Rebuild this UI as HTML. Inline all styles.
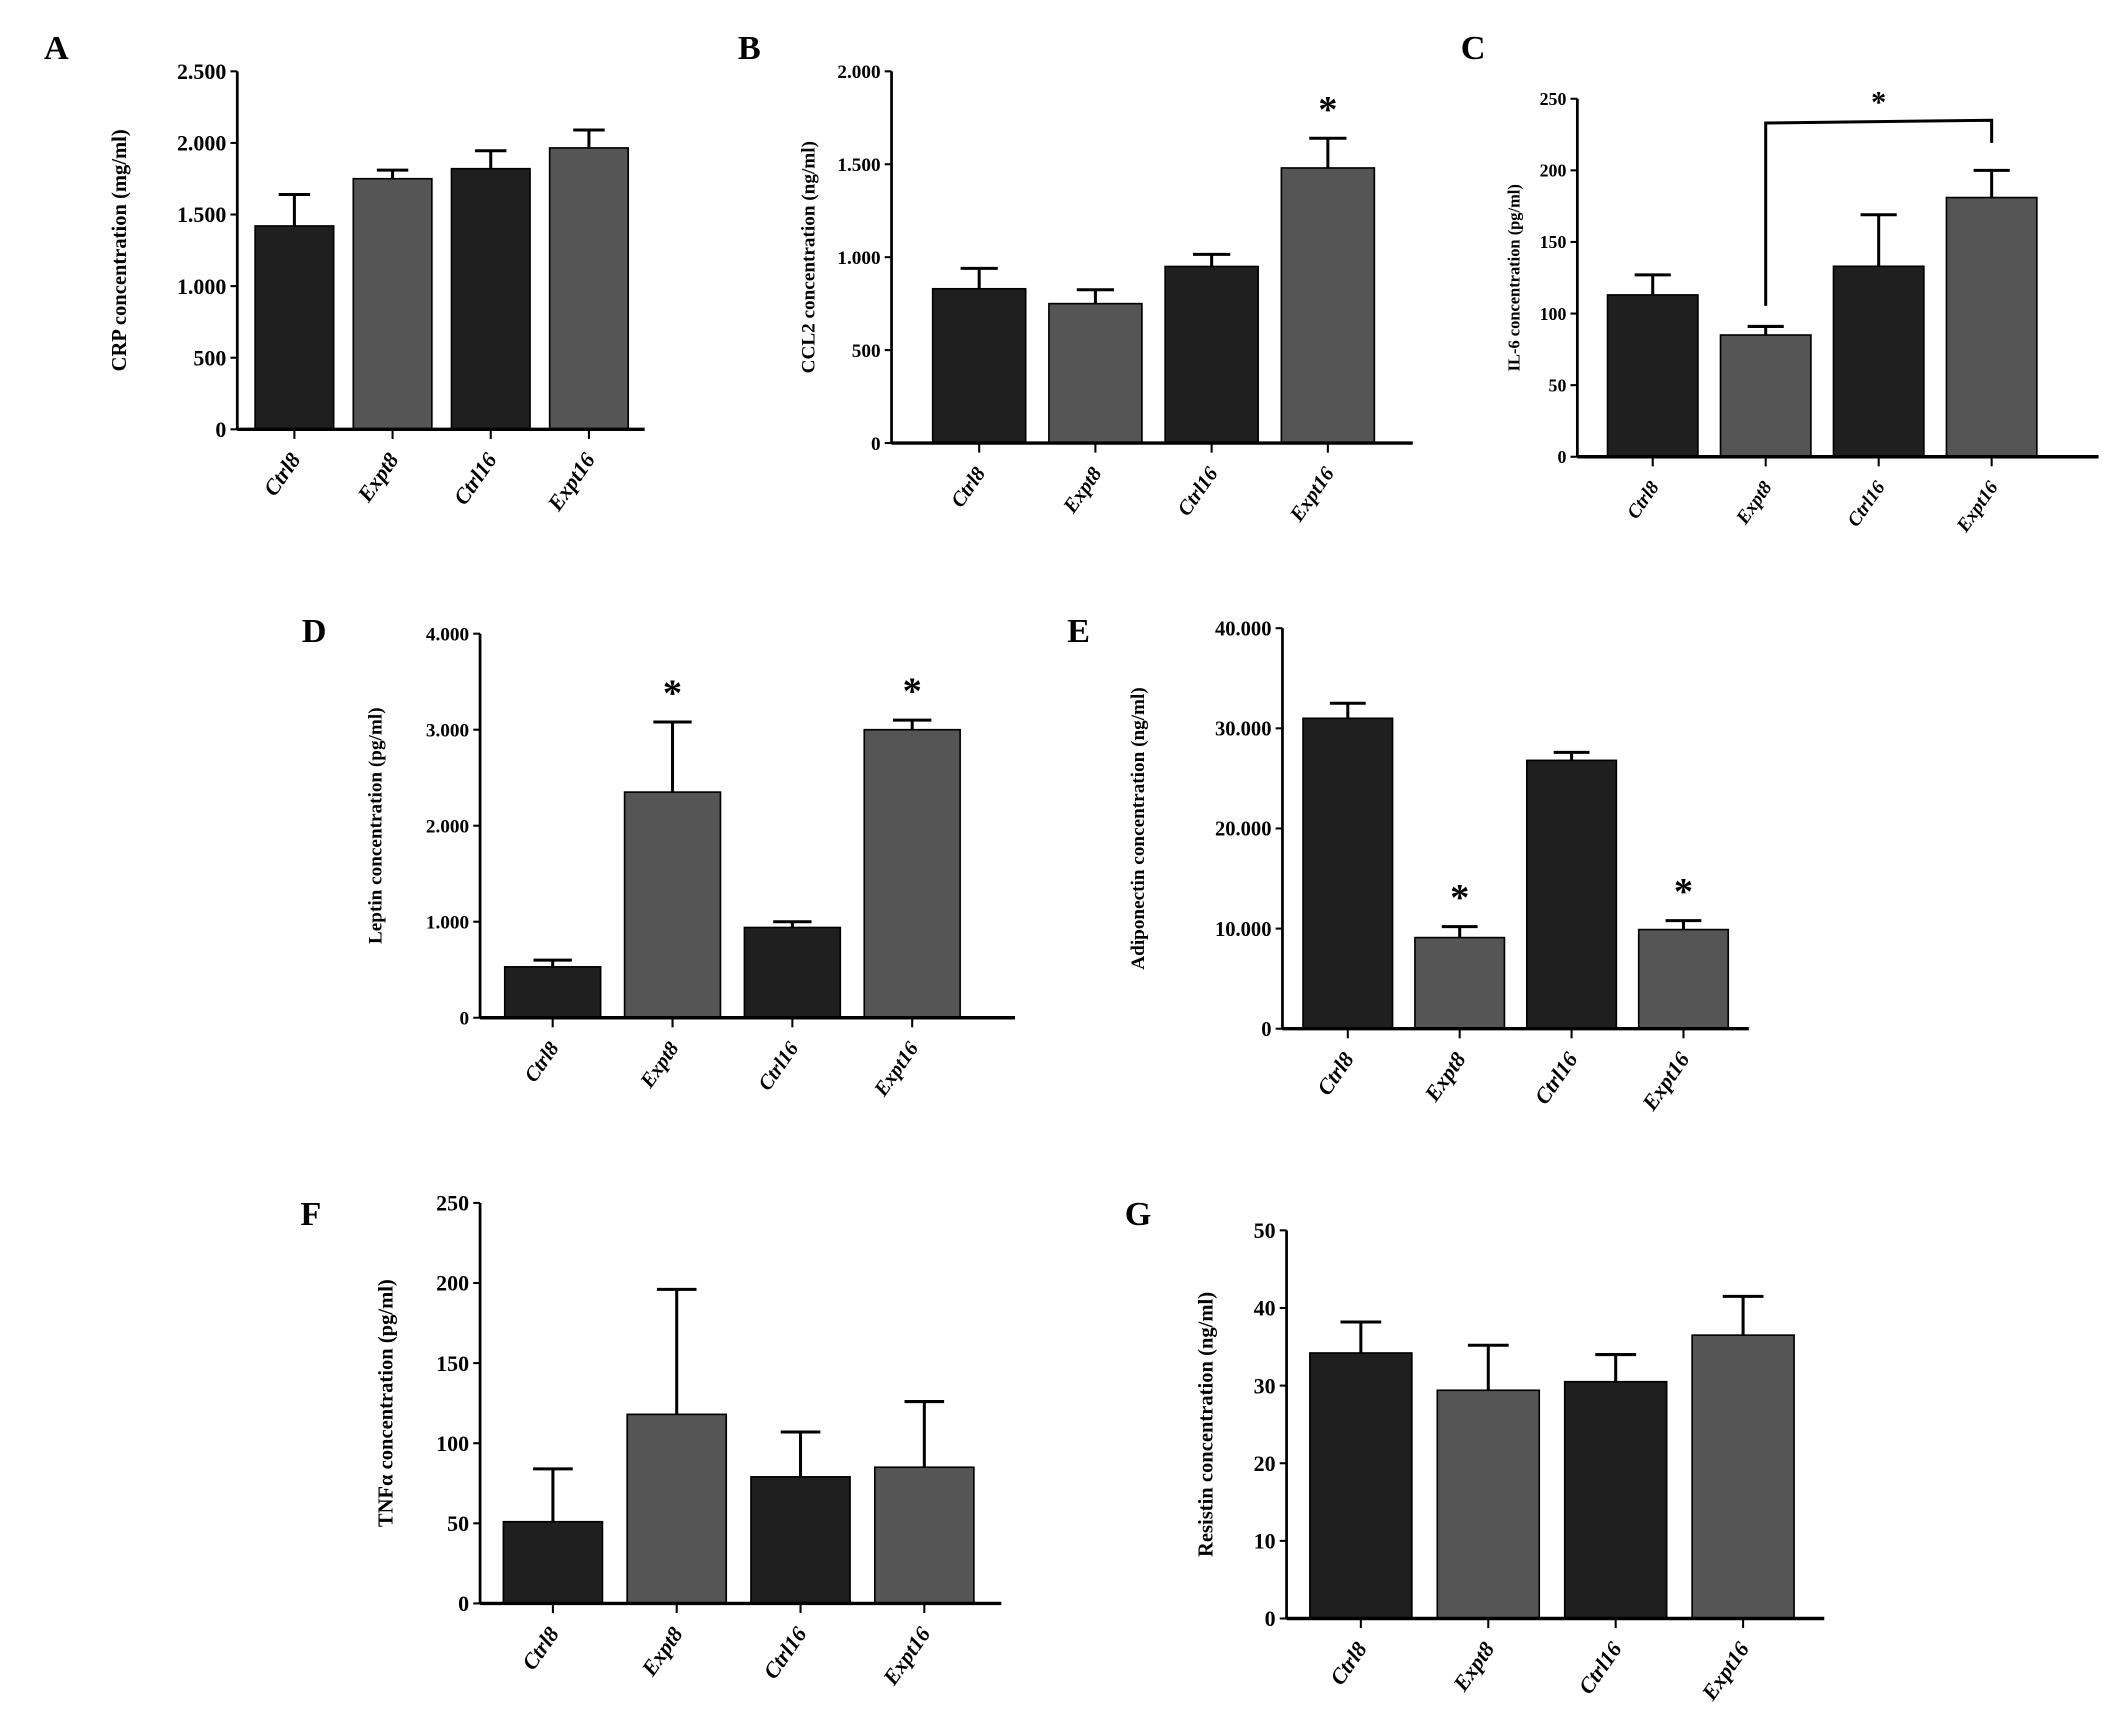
<!DOCTYPE html>
<html><head><meta charset="utf-8"><style>
html,body{margin:0;padding:0;background:#fff;}
svg{display:block;}
text{font-family:"Liberation Serif",serif;font-weight:bold;fill:#000;}
</style></head><body>
<svg id="fig" width="2126" height="1710" viewBox="0 0 1550 1246.7" xmlns="http://www.w3.org/2000/svg"></svg>
<script>
const categories = ["Ctrl8","Expt8","Ctrl16","Expt16"];
const crpValues = [1420,1750,1820,1965];
const crpErr = [1640,1810,1945,2090];
const crpTicks = ["0","500","1.000","1.500","2.000","2.500"];
const ccl2Values = [830,750,950,1480];
const ccl2Err = [940,825,1015,1640];
const ccl2Ticks = ["0","500","1.000","1.500","2.000"];
const il6Values = [113,85,133,181];
const il6Err = [127,91,169,200];
const il6Ticks = ["0","50","100","150","200","250"];
const leptinValues = [530,2350,940,3000];
const leptinErr = [600,3080,1000,3100];
const leptinTicks = ["0","1.000","2.000","3.000","4.000"];
const adipoValues = [31000,9100,26800,9900];
const adipoErr = [32500,10200,27600,10800];
const adipoTicks = ["0","10.000","20.000","30.000","40.000"];
const tnfValues = [51,118,79,85];
const tnfErr = [84,196,107,126];
const tnfTicks = ["0","50","100","150","200","250"];
const resistinValues = [34.2,29.4,30.5,36.5];
const resistinErr = [38.2,35.2,34.0,41.5];
const resistinTicks = ["0","10","20","30","40","50"];

const NS="http://www.w3.org/2000/svg";
const svg=document.getElementById('fig');
function mk(tag,attrs,parent){const e=document.createElementNS(NS,tag);for(const k in attrs)e.setAttribute(k,attrs[k]);(parent||svg).appendChild(e);return e;}

const panels=[
 {id:'a',letter:'A',lx:32,ly:43,ax:173,top:52,zero:313,right:470,b0:186,b1:458,max:2500,step:500,ticks:crpTicks,vals:crpValues,err:crpErr,title:'CRP concentration (mg/ml)',tx:92,ts:15,fs:16,cs:16,stars:[]},
 {id:'b',letter:'B',lx:538,ly:43,ax:650,top:52,zero:323,right:1030,b0:680,b1:1002,max:2000,step:500,ticks:ccl2Ticks,vals:ccl2Values,err:ccl2Err,title:'CCL2 concentration (ng/ml)',tx:594,ts:14,fs:14,cs:15,stars:[3]},
 {id:'c',letter:'C',lx:1065,ly:43,ax:1150,top:72,zero:333,right:1530,b0:1172,b1:1485,max:250,step:50,ticks:il6Ticks,vals:il6Values,err:il6Err,title:'IL-6 concentration (pg/ml)',tx:1108,ts:12,fs:13,cs:14,stars:[],bracket:true},
 {id:'d',letter:'D',lx:220,ly:468,ax:350,top:462,zero:742,right:740,b0:368,b1:700,max:4000,step:1000,ticks:leptinTicks,vals:leptinValues,err:leptinErr,title:'Leptin concentration (pg/ml)',tx:278,ts:14,fs:14,cs:15,stars:[1,3]},
 {id:'e',letter:'E',lx:778,ly:468,ax:935,top:458,zero:750,right:1275,b0:950,b1:1260,max:40000,step:10000,ticks:adipoTicks,vals:adipoValues,err:adipoErr,title:'Adiponectin concentration (ng/ml)',tx:834,ts:14,fs:15,cs:16,stars:[1,3]},
 {id:'f',letter:'F',lx:219,ly:893,ax:350,top:877,zero:1169,right:730,b0:367,b1:710,max:250,step:50,ticks:tnfTicks,vals:tnfValues,err:tnfErr,title:'TNFα concentration (pg/ml)',tx:286,ts:15,fs:16,cs:16,stars:[]},
 {id:'g',letter:'G',lx:820,ly:893,ax:938,top:897,zero:1180,right:1330,b0:955,b1:1308,max:50,step:10,ticks:resistinTicks,vals:resistinValues,err:resistinErr,title:'Resistin concentration (ng/ml)',tx:884,ts:15,fs:16,cs:16,stars:[]}
];
const colors=['#1f1f1f','#555','#1f1f1f','#555'];

panels.forEach(p=>{
  const g=mk('g',{});
  
  
  const y=v=>p.zero-(v/p.max)*(p.zero-p.top);
  const n=categories.length;
  const slot=(p.b1-p.b0)/(n-0.2);
  const bw=slot*0.8;
  const cx=i=>p.b0+bw/2+i*slot;
  const L=mk('text',{x:p.lx,y:p.ly,'font-size':25},g);L.textContent=p.letter;
  
  
  p.vals.forEach((v,i)=>{
    const x=cx(i);
    const eb=mk('path',{d:`M${x} ${y(v)}V${y(p.err[i])}M${x-bw*0.2} ${y(p.err[i])}H${x+bw*0.2}`,stroke:'#000','stroke-width':2.2,fill:'none'},g);
    
    
    const r=mk('rect',{x:x-bw/2,y:y(v),width:bw,height:p.zero-y(v),fill:colors[i],stroke:'#000','stroke-width':1.2},g);
    
    
    const tk=mk('line',{x1:x,x2:x,y1:p.zero,y2:p.zero+7,stroke:'#000','stroke-width':1.5},g);
    
    
    const ct=mk('text',{x:x+5,y:p.zero+22,'font-size':p.cs,'font-style':'italic','text-anchor':'end',transform:`rotate(-55 ${x+5} ${p.zero+22})`},g);
    ct.textContent=categories[i];
    
    
    if(p.stars.includes(i)){
      const s=mk('text',{x:x,y:y(p.err[i])-12,'font-size':28,'font-weight':'normal','text-anchor':'middle'},g);
      s.textContent='*';
      
      
    }
  });
  const ya=mk('line',{x1:p.ax,x2:p.ax,y1:p.top,y2:p.zero,stroke:'#000','stroke-width':2},g);
  
  
  const xa=mk('line',{x1:p.ax,x2:p.right,y1:p.zero,y2:p.zero,stroke:'#000','stroke-width':2.5},g);
  
  
  p.ticks.forEach((t,k)=>{
    const ty=y(k*p.step);
    const tl=mk('line',{x1:p.ax-5,x2:p.ax,y1:ty,y2:ty,stroke:'#000','stroke-width':1.5},g);
    
    
    const tt=mk('text',{x:p.ax-8,y:ty+p.fs*0.35,'font-size':p.fs,'text-anchor':'end'},g);
    tt.textContent=t;
    
    
  });
  const my=(p.top+p.zero)/2;
  const ti=mk('text',{x:p.tx,y:my,'font-size':p.ts,'text-anchor':'middle',transform:`rotate(-90 ${p.tx} ${my})`},g);
  ti.textContent=p.title;
  
  
  if(p.bracket){
    const x1=cx(1),x2=cx(3);
    const by=y(p.max*0.94);
    const br=mk('path',{d:`M${x1} ${y(p.err[1])-15}V${by+2}L${x2} ${by}V${y(p.err[3])-20}`,stroke:'#000','stroke-width':2.2,fill:'none'},g);
    
    
    const s=mk('text',{x:(x1+x2)/2,y:by-6,'font-size':22,'font-weight':'normal','text-anchor':'middle'},g);
    s.textContent='*';
    
    
  }
});
</script>
</body></html>
